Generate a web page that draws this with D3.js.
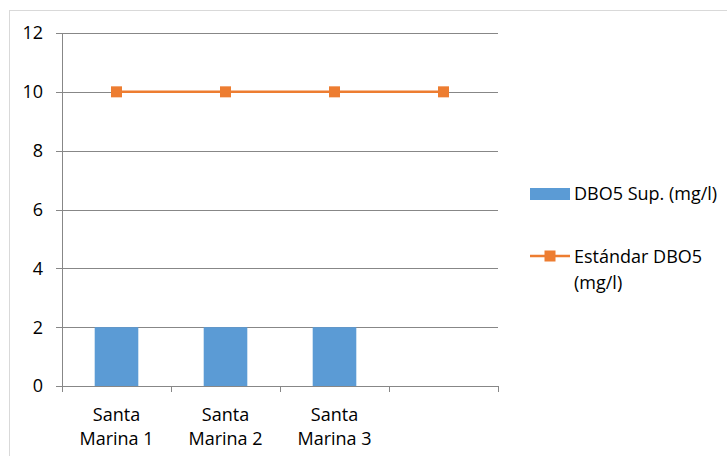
<!DOCTYPE html>
<html>
<head>
<meta charset="utf-8">
<script src="https://cdn.jsdelivr.net/npm/d3@7"></script>
<style>
  html, body { margin: 0; padding: 0; background: #fff; }
  svg { display: block; font-family: "Open Sans", Lato, sans-serif; }
</style>
</head>
<body>
<svg id="chart" width="727" height="456"></svg>
<script>
// Sampling points and DBO5 readings
const categories = ["Santa Marina 1", "Santa Marina 2", "Santa Marina 3", ""];
const dboValues = [2, 2, 2, null];
const standardValues = [10, 10, 10, 10];
const yTicks = [0, 2, 4, 6, 8, 10, 12];
const legendLabels = ["DBO5 Sup. (mg/l)", "Estándar DBO5", "(mg/l)"];

const barColor = "#5b9bd5";
const lineColor = "#ed7d31";
const gridColor = "#878787";
const fontSize = 18;

const svg = d3.select("#chart");

// outer chart frame
svg.append("rect")
  .attr("x", 9.5).attr("y", 10.5)
  .attr("width", 740).attr("height", 460)
  .attr("fill", "none").attr("stroke", "#d9d9d9").attr("stroke-width", 1);

const plot = { left: 62, right: 498, top: 33, bottom: 386 };

const x = d3.scaleBand().domain(d3.range(categories.length))
  .range([plot.left, plot.right]).paddingInner(0.6).paddingOuter(0.3);
const xOuter = d3.scaleBand().domain(d3.range(categories.length))
  .range([plot.left, plot.right]);
const y = d3.scaleLinear().domain([0, 12]).range([plot.bottom, plot.top]);

// horizontal gridlines
svg.append("g").selectAll("line").data(yTicks).join("line")
  .attr("x1", plot.left - 6).attr("x2", plot.right)
  .attr("y1", d => Math.round(y(d)) + 0.5).attr("y2", d => Math.round(y(d)) + 0.5)
  .attr("stroke", gridColor).attr("stroke-width", 1);

// y tick labels
svg.append("g").selectAll("text").data(yTicks).join("text")
  .attr("x", 43).attr("y", d => y(d))
  .attr("dy", "0.36em").attr("text-anchor", "end")
  .attr("font-size", fontSize).attr("fill", "#000")
  .text(d => d);

// bars
svg.append("g").selectAll("rect").data(dboValues.map((v, i) => ({ v, i })).filter(d => d.v != null))
  .join("rect")
  .attr("x", d => x(d.i)).attr("width", x.bandwidth())
  .attr("y", d => y(d.v)).attr("height", d => y(0) - y(d.v))
  .attr("fill", barColor);

// y axis line
svg.append("line")
  .attr("x1", plot.left + 0.5).attr("x2", plot.left + 0.5)
  .attr("y1", plot.top).attr("y2", plot.bottom)
  .attr("stroke", gridColor);

// x axis ticks between categories
const xTickPos = d3.range(categories.length + 1).map(i => plot.left + i * xOuter.bandwidth());
svg.append("g").selectAll("line").data(xTickPos).join("line")
  .attr("x1", d => Math.round(d) + 0.5).attr("x2", d => Math.round(d) + 0.5)
  .attr("y1", plot.bottom).attr("y2", plot.bottom + 6)
  .attr("stroke", gridColor);

// category labels, two lines each
const catLabels = svg.append("g").selectAll("text").data(categories.map((c, i) => ({ c, i })).filter(d => d.c))
  .join("text")
  .attr("text-anchor", "middle").attr("font-size", fontSize).attr("fill", "#000");
catLabels.each(function (d) {
  const parts = d.c.split(" ");
  const lines = [parts[0], parts.slice(1).join(" ")];
  const t = d3.select(this);
  lines.forEach((l, k) => {
    t.append("tspan")
      .attr("x", xOuter(d.i) + xOuter.bandwidth() / 2)
      .attr("y", 421 + k * 24)
      .text(l);
  });
});

// standard line with square markers
const line = d3.line()
  .x((d, i) => xOuter(i) + xOuter.bandwidth() / 2)
  .y(d => y(d));
svg.append("path").datum(standardValues)
  .attr("d", line).attr("fill", "none")
  .attr("stroke", lineColor).attr("stroke-width", 2.5);
svg.append("g").selectAll("rect").data(standardValues).join("rect")
  .attr("x", (d, i) => xOuter(i) + xOuter.bandwidth() / 2 - 5.5)
  .attr("y", d => y(d) - 5.5)
  .attr("width", 11).attr("height", 11)
  .attr("fill", lineColor);

// legend
const legend = svg.append("g");
legend.append("rect")
  .attr("x", 530).attr("y", 188).attr("width", 40).attr("height", 12)
  .attr("fill", barColor);
legend.append("text")
  .attr("x", 574).attr("y", 200)
  .attr("font-size", fontSize).attr("fill", "#000")
  .text(legendLabels[0]);
legend.append("line")
  .attr("x1", 530).attr("x2", 570).attr("y1", 256).attr("y2", 256)
  .attr("stroke", lineColor).attr("stroke-width", 2.5);
legend.append("rect")
  .attr("x", 544.5).attr("y", 250.5).attr("width", 11).attr("height", 11)
  .attr("fill", lineColor);
const lt = legend.append("text")
  .attr("font-size", fontSize).attr("fill", "#000");
lt.append("tspan").attr("x", 574).attr("y", 263).text(legendLabels[1]);
lt.append("tspan").attr("x", 574).attr("y", 289).text(legendLabels[2]);
</script>
</body>
</html>
